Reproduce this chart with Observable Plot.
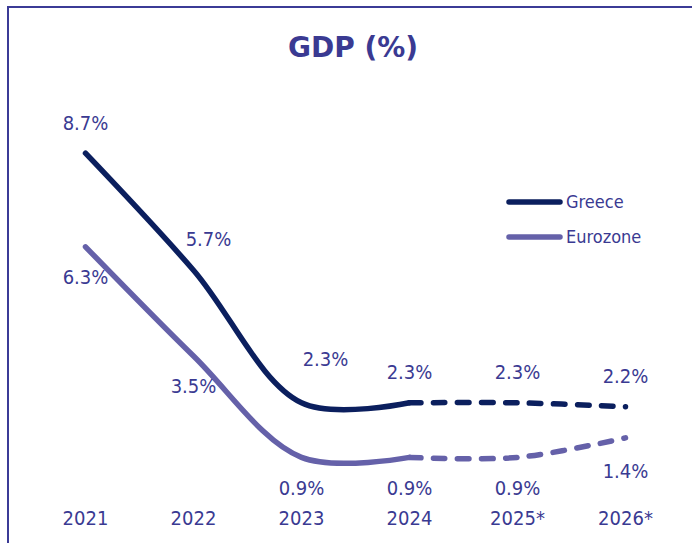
<!DOCTYPE html>
<html>
<head>
<meta charset="utf-8">
<script src="https://cdn.jsdelivr.net/npm/d3@7"></script>
<script src="https://cdn.jsdelivr.net/npm/@observablehq/plot@0.6"></script>
<style>
  html, body { margin: 0; padding: 0; background: #fff; }
  #chart { width: 692px; height: 543px; }
</style>
</head>
<body>
<div id="chart"></div>
<script>
const years = ["2021", "2022", "2023", "2024", "2025*", "2026*"];
const greece = [8.7, 5.7, 2.3, 2.3, 2.3, 2.2];
const eurozone = [6.3, 3.5, 0.9, 0.9, 0.9, 1.4];
const seriesNames = ["Greece", "Eurozone"];
const title = "GDP (%)";

const C_GR = "#0b1f5e";
const C_EZ = "#6561a9";
const C_TXT = "#3a3a92";
const FONT = "'DejaVu Sans Condensed', 'DejaVu Sans', sans-serif";

const grRows = years.map((y, i) => ({year: y, value: greece[i], label: greece[i].toFixed(1) + "%"}));
const ezRows = years.map((y, i) => ({year: y, value: eurozone[i], label: eurozone[i].toFixed(1) + "%"}));

const W = 692, H = 543;
const lineStyle = {x: "year", y: "value", strokeWidth: 5.5, curve: "catmull-rom", strokeLinecap: "round", strokeLinejoin: "round"};
const dash = "11.5,12.5";

const chart = Plot.plot({
  width: W,
  height: H,
  marginLeft: 85,
  marginRight: 67,
  marginTop: 102,
  marginBottom: 51,
  style: {fontFamily: FONT, fontSize: "20px", color: C_TXT, background: "#fff", overflow: "visible"},
  x: {type: "point", domain: years, padding: 0, tickSize: 0, tickPadding: 18, label: null},
  y: {domain: [0, 10], axis: null},
  marks: [
    Plot.line(grRows.slice(0, 4), {...lineStyle, stroke: C_GR}),
    Plot.line(grRows.slice(3), {...lineStyle, stroke: C_GR, strokeDasharray: dash}),
    Plot.line(ezRows.slice(0, 4), {...lineStyle, stroke: C_EZ}),
    Plot.line(ezRows.slice(3), {...lineStyle, stroke: C_EZ, strokeDasharray: dash}),
    Plot.text(grRows.filter(d => d.year !== "2022" && d.year !== "2023"), {x: "year", y: "value", text: "label", dy: -30, fill: C_TXT}),
    Plot.text(grRows.filter(d => d.year === "2022"), {x: "year", y: "value", text: "label", dx: 15, dy: -31, fill: C_TXT}),
    Plot.text(grRows.filter(d => d.year === "2023"), {x: "year", y: "value", text: "label", dx: 24, dy: -43, fill: C_TXT}),
    Plot.text(ezRows.filter(d => d.year !== "2026*"), {x: "year", y: "value", text: "label", dy: 31, fill: C_TXT}),
    Plot.text(ezRows.filter(d => d.year === "2026*"), {x: "year", y: "value", text: "label", dy: 34, fill: C_TXT})
  ]
});

document.getElementById("chart").appendChild(chart);

const svg = d3.select(chart);
// border (top and left)
svg.append("path")
  .attr("d", `M${W},7 H8 V${H}`)
  .attr("fill", "none")
  .attr("stroke", "#3b3b96")
  .attr("stroke-width", 2);

// title
svg.append("text")
  .attr("x", 353).attr("y", 57)
  .attr("text-anchor", "middle")
  .attr("font-family", "'DejaVu Sans', sans-serif")
  .attr("font-weight", "bold")
  .attr("font-size", 28)
  .attr("fill", C_TXT)
  .text(title);

// legend
const legColors = [C_GR, C_EZ];
seriesNames.forEach((name, i) => {
  const ly = 202 + i * 35;
  svg.append("line")
    .attr("x1", 509).attr("x2", 560).attr("y1", ly).attr("y2", ly)
    .attr("stroke", legColors[i]).attr("stroke-width", 5.5).attr("stroke-linecap", "round");
  svg.append("text")
    .attr("x", 566).attr("y", ly).attr("dy", "0.35em")
    .attr("text-anchor", "start")
    .attr("font-family", FONT).attr("font-size", 18)
    .attr("fill", C_TXT)
    .text(name);
});
</script>
</body>
</html>
